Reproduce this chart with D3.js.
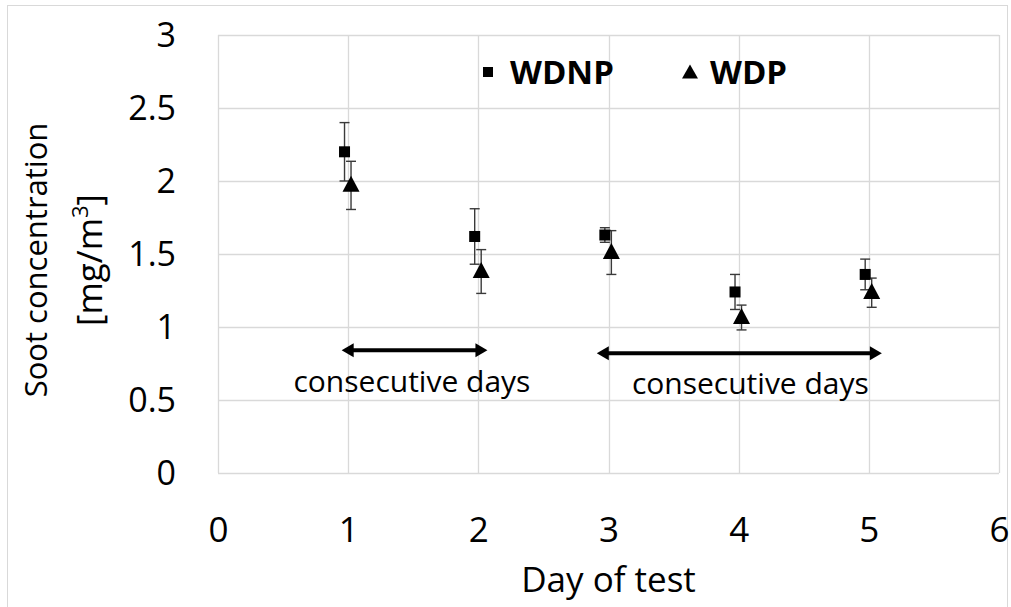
<!DOCTYPE html>
<html>
<head>
<meta charset="utf-8">
<script src="https://cdn.jsdelivr.net/npm/d3@7/dist/d3.min.js"></script>
<style>
  html, body { margin: 0; padding: 0; background: #fff; }
  svg { display: block; }
  text { font-family: "Open Sans", "Noto Sans", sans-serif; fill: #000; }
</style>
</head>
<body>
<svg id="chart" width="1011" height="607"></svg>
<script>
// ---- data ----
const days = [1, 2, 3, 4, 5];
const wdnpValues = [2.20, 1.62, 1.63, 1.24, 1.36];
const wdnpErrors = [0.20, 0.19, 0.05, 0.12, 0.105];
const wdpValues  = [1.97, 1.38, 1.51, 1.065, 1.235];
const wdpErrors  = [0.165, 0.15, 0.15, 0.085, 0.10];
const xTicks = [0, 1, 2, 3, 4, 5, 6];
const yTicks = [0, 0.5, 1, 1.5, 2, 2.5, 3];
const seriesNames = ["WDNP", "WDP"];
const annotations = [
  { from: 0.95, to: 2.07, arrowY: 0.84, label: "consecutive days", labelX: 1.49, labelY: 0.555 },
  { from: 2.91, to: 5.10, arrowY: 0.82, label: "consecutive days", labelX: 4.09, labelY: 0.54 }
];

// ---- layout ----
const svg = d3.select("#chart");
const plot = { left: 218, right: 999, top: 35, bottom: 473 };
const x = d3.scaleLinear().domain([0, 6]).range([plot.left, plot.right]);
const y = d3.scaleLinear().domain([0, 3]).range([plot.bottom, plot.top]);
const gridColor = "#d9d9d9";

// outer chart border
svg.append("rect").attr("x", 7.5).attr("y", 5.5).attr("width", 1000).attr("height", 610)
  .attr("fill", "none").attr("stroke", gridColor).attr("stroke-width", 1);

// gridlines
const grid = svg.append("g");
grid.selectAll("line.h").data(yTicks).join("line")
  .attr("x1", plot.left).attr("x2", plot.right)
  .attr("y1", d => Math.round(y(d)) + 0.5).attr("y2", d => Math.round(y(d)) + 0.5)
  .attr("stroke", gridColor).attr("stroke-width", 1.3);
grid.selectAll("line.v").data(xTicks).join("line")
  .attr("y1", plot.top).attr("y2", plot.bottom)
  .attr("x1", d => Math.round(x(d)) + 0.5).attr("x2", d => Math.round(x(d)) + 0.5)
  .attr("stroke", gridColor).attr("stroke-width", 1.3);

// axes (labels only)
const xAxis = svg.append("g").attr("transform", `translate(0,${plot.bottom + 69})`)
  .call(d3.axisBottom(x).tickValues(xTicks).tickSize(0).tickPadding(0).tickFormat(d3.format("d")));
xAxis.select(".domain").remove();
xAxis.selectAll("text").attr("font-size", 35).attr("font-family", "Open Sans").attr("dy", "0").attr("y", 0).attr("fill", "#000");

const yAxis = svg.append("g").attr("transform", `translate(${plot.left - 42},0)`)
  .call(d3.axisLeft(y).tickValues(yTicks).tickSize(0).tickPadding(0).tickFormat(d => d3.format("")(d)));
yAxis.select(".domain").remove();
yAxis.selectAll("text").attr("font-size", 34).attr("font-family", "Open Sans").attr("dy", "0.35em").attr("fill", "#000");

// axis titles
svg.append("text").attr("x", x(3)).attr("y", 592).attr("text-anchor", "middle")
  .attr("font-size", 35).text("Day of test");

const yt = svg.append("g").attr("transform", "translate(0,260) rotate(-90)");
yt.append("text").attr("x", 0).attr("y", 47).attr("text-anchor", "middle")
  .attr("font-size", 31).text("Soot concentration");
const yt2 = yt.append("text").attr("x", 0).attr("y", 102).attr("text-anchor", "middle").attr("font-size", 35);
yt2.append("tspan").text("[mg/m");
yt2.append("tspan").attr("font-size", 22).attr("dy", -14).text("3");
yt2.append("tspan").attr("dy", 14).text("]");

// error bars
const errColor = "#3a3a3a";
function errorBars(offset, vals, errs) {
  const g = svg.append("g").attr("stroke", errColor).attr("stroke-width", 1.4);
  days.forEach((d, i) => {
    const cx = x(d + offset), hi = y(vals[i] + errs[i]), lo = y(vals[i] - errs[i]);
    g.append("line").attr("x1", cx).attr("x2", cx).attr("y1", hi).attr("y2", lo);
    g.append("line").attr("x1", cx - 5).attr("x2", cx + 5).attr("y1", hi).attr("y2", hi);
    g.append("line").attr("x1", cx - 5).attr("x2", cx + 5).attr("y1", lo).attr("y2", lo);
  });
}
const offNP = -0.028, offP = 0.022;
errorBars(offNP, wdnpValues, wdnpErrors);
errorBars(offP, wdpValues, wdpErrors);

// markers
const sq = 11;
svg.append("g").selectAll("rect").data(days).join("rect")
  .attr("x", (d) => x(d + offNP) - sq / 2)
  .attr("y", (d, i) => y(wdnpValues[i]) - sq / 2)
  .attr("width", sq).attr("height", sq).attr("fill", "#000");

const triPath = (cx, cy, w, h) => `M${cx},${cy - h * 0.6} L${cx + w / 2},${cy + h * 0.4} L${cx - w / 2},${cy + h * 0.4} Z`;
svg.append("g").selectAll("path").data(days).join("path")
  .attr("d", (d, i) => triPath(x(d + offP), y(wdpValues[i]), 17, 16))
  .attr("fill", "#000");

// legend
const lg = svg.append("g");
lg.append("rect").attr("x", 483).attr("y", 67).attr("width", 10).attr("height", 10).attr("fill", "#000");
lg.append("text").attr("x", 510).attr("y", 84).attr("font-size", 33).attr("font-weight", "bold").text(seriesNames[0]);
lg.append("path").attr("d", triPath(690, 73, 16, 14)).attr("fill", "#000");
lg.append("text").attr("x", 710).attr("y", 84).attr("font-size", 33).attr("font-weight", "bold").text(seriesNames[1]);

// annotation arrows
const ann = svg.append("g");
annotations.forEach(a => {
  const x1 = x(a.from), x2 = x(a.to), ay = y(a.arrowY), hl = 12, hw = 7;
  ann.append("line").attr("x1", x1 + hl - 2).attr("x2", x2 - hl + 2).attr("y1", ay).attr("y2", ay)
    .attr("stroke", "#000").attr("stroke-width", 4);
  ann.append("path").attr("d", `M${x1},${ay} L${x1 + hl},${ay - hw} L${x1 + hl},${ay + hw} Z`).attr("fill", "#000");
  ann.append("path").attr("d", `M${x2},${ay} L${x2 - hl},${ay - hw} L${x2 - hl},${ay + hw} Z`).attr("fill", "#000");
  ann.append("text").attr("x", x(a.labelX)).attr("y", y(a.labelY)).attr("text-anchor", "middle")
    .attr("font-size", 30).text(a.label);
});
</script>
</body>
</html>
